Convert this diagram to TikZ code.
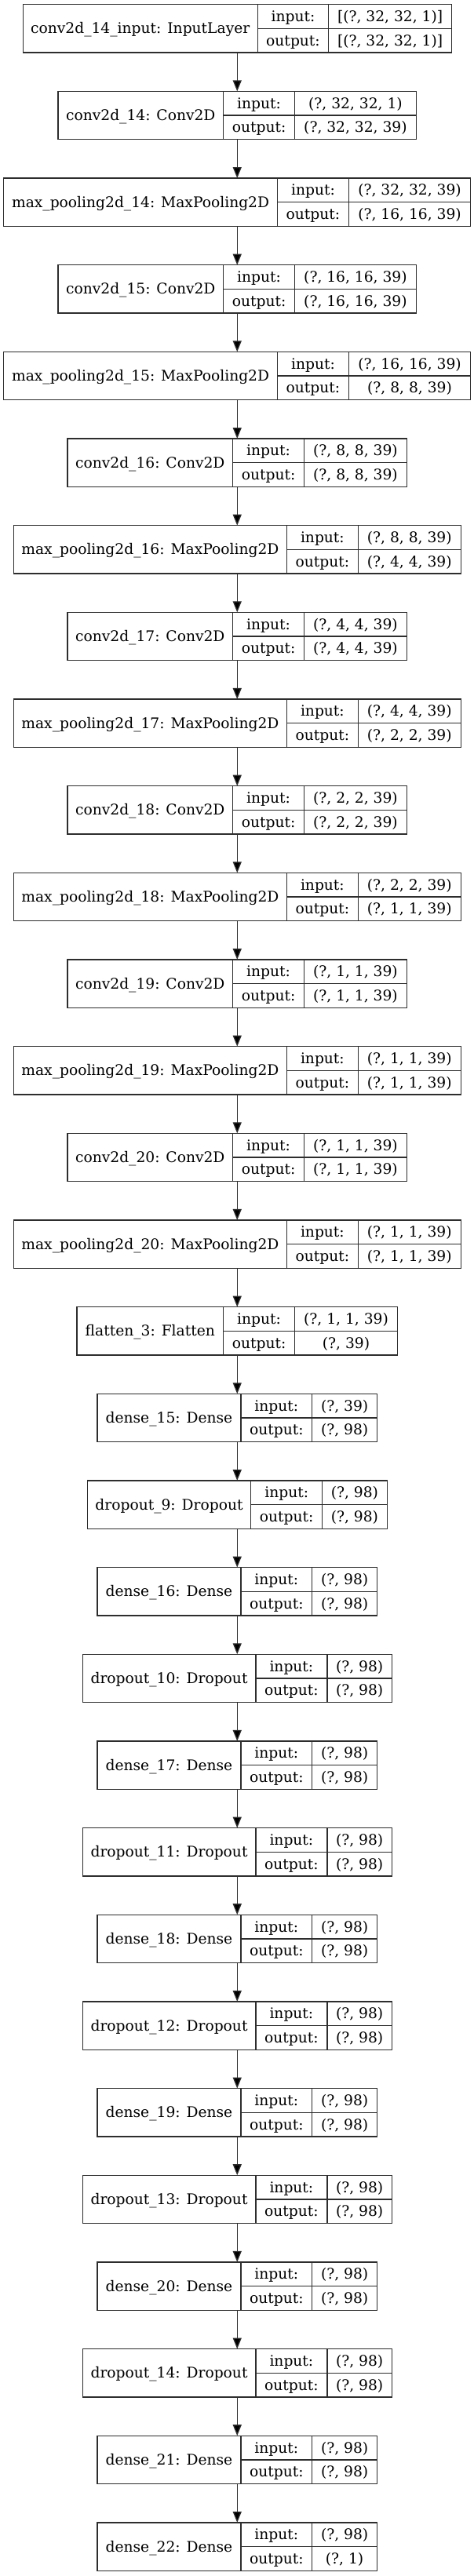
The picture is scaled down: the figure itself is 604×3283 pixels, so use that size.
\documentclass[tikz,border=0pt]{standalone}
\usepackage{fontspec}
\setmainfont{DejaVu Serif}
\usetikzlibrary{arrows.meta}
\definecolor{edgegray}{RGB}{45,45,45}
\tikzset{
  cellbox/.style={draw=edgegray, line width=1.3pt, inner sep=0pt, outer sep=0pt, rectangle},
  divline/.style={draw=edgegray, line width=1.3pt},
  txt/.style={anchor=base, inner sep=0pt, outer sep=0pt, text=black, font=\fontsize{18.67}{22}\selectfont},
  conn/.style={draw=edgegray, line width=1.3pt, -{Triangle[length=14pt,width=11pt,fill=black]}},
}
% #1 index, #2 left, #3 name divider, #4 column divider, #5 right, #6 name, #7 input, #8 output
\newcommand\kerasLayer[8]{%
  \pgfmathsetmacro\ktop{5.7+#1*110.66}%
  \pgfmathsetmacro\kbot{\ktop+61.3}%
  \pgfmathsetmacro\kmid{\ktop+30.65}%
  \pgfmathsetmacro\kw{#5-#2}%
  \pgfmathsetmacro\kna{(#2+#3)/2}%
  \pgfmathsetmacro\kla{(#3+#4)/2}%
  \pgfmathsetmacro\kva{(#4+#5)/2}%
  \pgfmathsetmacro\knb{-\kmid-6.5}%
  \pgfmathsetmacro\kib{-\ktop-15.33-6.5}%
  \pgfmathsetmacro\kob{-\kmid-15.33-6.5}%
  \node[cellbox, minimum width=\kw pt, minimum height=61.3pt] (L#1) at (302.25,-\kmid) {};
  \draw[divline] (#3,-\ktop) -- (#3,-\kbot);
  \draw[divline] (#4,-\ktop) -- (#4,-\kbot);
  \draw[divline] (#3,-\kmid) -- (#5,-\kmid);
  \node[txt] (L#1n) at (\kna,\knb) {#6};
  \node[txt] (L#1il) at (\kla,\kib) {input:};
  \node[txt] (L#1ol) at (\kla,\kob) {output:};
  \node[txt] (L#1iv) at (\kva,\kib) {#7};
  \node[txt] (L#1ov) at (\kva,\kob) {#8};
}
\begin{document}
\begin{tikzpicture}[x=1pt,y=1pt]
\useasboundingbox[fill=white] (0,0) rectangle (604,-3283);
\kerasLayer{0}{29.3}{328.2}{418.8}{575.4}{conv2d\_14\_input: InputLayer}{[(?, 32, 32, 1)]}{[(?, 32, 32, 1)]}
\kerasLayer{1}{74}{284.6}{375.6}{530.3}{conv2d\_14: Conv2D}{(?, 32, 32, 1)}{(?, 32, 32, 39)}
\kerasLayer{2}{4.6}{353.6}{444.3}{599.7}{max\_pooling2d\_14: MaxPooling2D}{(?, 32, 32, 39)}{(?, 16, 16, 39)}
\kerasLayer{3}{74}{284.6}{375.6}{530.3}{conv2d\_15: Conv2D}{(?, 16, 16, 39)}{(?, 16, 16, 39)}
\kerasLayer{4}{4.6}{353.6}{444.3}{599.7}{max\_pooling2d\_15: MaxPooling2D}{(?, 16, 16, 39)}{(?, 8, 8, 39)}
\kerasLayer{5}{86}{296.6}{387.6}{518.3}{conv2d\_16: Conv2D}{(?, 8, 8, 39)}{(?, 8, 8, 39)}
\kerasLayer{6}{17.2}{365.6}{456.2}{587.3}{max\_pooling2d\_16: MaxPooling2D}{(?, 8, 8, 39)}{(?, 4, 4, 39)}
\kerasLayer{7}{86}{296.6}{387.6}{518.3}{conv2d\_17: Conv2D}{(?, 4, 4, 39)}{(?, 4, 4, 39)}
\kerasLayer{8}{17.2}{365.6}{456.2}{587.3}{max\_pooling2d\_17: MaxPooling2D}{(?, 4, 4, 39)}{(?, 2, 2, 39)}
\kerasLayer{9}{86}{296.6}{387.6}{518.3}{conv2d\_18: Conv2D}{(?, 2, 2, 39)}{(?, 2, 2, 39)}
\kerasLayer{10}{17.2}{365.6}{456.2}{587.3}{max\_pooling2d\_18: MaxPooling2D}{(?, 2, 2, 39)}{(?, 1, 1, 39)}
\kerasLayer{11}{86}{296.6}{387.6}{518.3}{conv2d\_19: Conv2D}{(?, 1, 1, 39)}{(?, 1, 1, 39)}
\kerasLayer{12}{17.2}{365.6}{456.2}{587.3}{max\_pooling2d\_19: MaxPooling2D}{(?, 1, 1, 39)}{(?, 1, 1, 39)}
\kerasLayer{13}{86}{296.6}{387.6}{518.3}{conv2d\_20: Conv2D}{(?, 1, 1, 39)}{(?, 1, 1, 39)}
\kerasLayer{14}{17.2}{365.6}{456.2}{587.3}{max\_pooling2d\_20: MaxPooling2D}{(?, 1, 1, 39)}{(?, 1, 1, 39)}
\kerasLayer{15}{98}{284.6}{375.6}{506.4}{flatten\_3: Flatten}{(?, 1, 1, 39)}{(?, 39)}
\kerasLayer{16}{123.9}{307}{397.6}{480.6}{dense\_15: Dense}{(?, 39)}{(?, 98)}
\kerasLayer{17}{111.3}{319.7}{410.7}{493.2}{dropout\_9: Dropout}{(?, 98)}{(?, 98)}
\kerasLayer{18}{123.9}{307}{397.6}{480.6}{dense\_16: Dense}{(?, 98)}{(?, 98)}
\kerasLayer{19}{105.2}{325.9}{416.9}{499.3}{dropout\_10: Dropout}{(?, 98)}{(?, 98)}
\kerasLayer{20}{123.9}{307}{397.6}{480.6}{dense\_17: Dense}{(?, 98)}{(?, 98)}
\kerasLayer{21}{105.2}{325.9}{416.9}{499.3}{dropout\_11: Dropout}{(?, 98)}{(?, 98)}
\kerasLayer{22}{123.9}{307}{397.6}{480.6}{dense\_18: Dense}{(?, 98)}{(?, 98)}
\kerasLayer{23}{105.2}{325.9}{416.9}{499.3}{dropout\_12: Dropout}{(?, 98)}{(?, 98)}
\kerasLayer{24}{123.9}{307}{397.6}{480.6}{dense\_19: Dense}{(?, 98)}{(?, 98)}
\kerasLayer{25}{105.2}{325.9}{416.9}{499.3}{dropout\_13: Dropout}{(?, 98)}{(?, 98)}
\kerasLayer{26}{123.9}{307}{397.6}{480.6}{dense\_20: Dense}{(?, 98)}{(?, 98)}
\kerasLayer{27}{105.2}{325.9}{416.9}{499.3}{dropout\_14: Dropout}{(?, 98)}{(?, 98)}
\kerasLayer{28}{123.9}{307}{397.6}{480.6}{dense\_21: Dense}{(?, 98)}{(?, 98)}
\kerasLayer{29}{123.9}{307}{397.6}{480.6}{dense\_22: Dense}{(?, 98)}{(?, 1)}
\foreach \i [evaluate=\i as \j using int(\i+1)] in {0,...,28} {
  \draw[conn] (L\i.south) -- (L\j.north);
}
\end{tikzpicture}
\end{document}
